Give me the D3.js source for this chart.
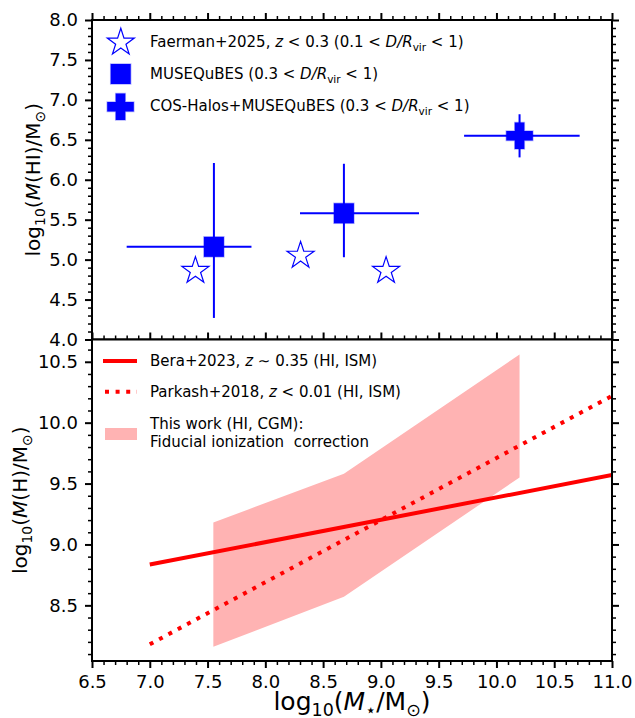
<!DOCTYPE html>
<html>
<head>
<meta charset="utf-8">
<script src="https://cdn.jsdelivr.net/npm/d3@7"></script>
<style>
  body { margin: 0; background: #fff; }
  svg text { font-family: "DejaVu Sans", sans-serif; }
</style>
</head>
<body>
<div id="chart"></div>
<script>
// ---- Data ----

// Top panel: log10 M(HI) against log10 M*
var faermanMass = [7.395, 8.305, 9.045];
var faermanHI = [4.86, 5.05, 4.86];

var museMass = [7.555, 8.68];
var museHI = [5.16, 5.58];
var museMassLo = [6.80, 8.30];
var museMassHi = [7.88, 9.33];
var museHILo = [4.27, 5.03];
var museHIHi = [6.21, 6.20];

var cosMass = [10.20];
var cosHI = [6.55];
var cosMassLo = [9.72];
var cosMassHi = [10.72];
var cosHILo = [6.28];
var cosHIHi = [6.82];

// Bottom panel: log10 M(H) against log10 M*
var beraMass = [7.0, 11.0];
var beraMH = [8.835, 9.57];
var parkashMass = [7.0, 11.0];
var parkashMH = [8.18, 10.22];
var bandMass = [7.55, 8.68, 10.2];
var bandLow = [8.16, 8.57, 9.55];
var bandHigh = [9.18, 9.58, 10.56];

// Tick values
var xMajorTicks = [6.5, 7.0, 7.5, 8.0, 8.5, 9.0, 9.5, 10.0, 10.5, 11.0];
var topMajorTicks = [4.0, 4.5, 5.0, 5.5, 6.0, 6.5, 7.0, 7.5, 8.0];
var bottomMajorTicks = [8.5, 9.0, 9.5, 10.0, 10.5];

// ---- Layout ----
var svgWidth = 635;
var svgHeight = 718;
var left = 92, right = 612;
var topTop = 20, topBottom = 339.5;
var botTop = 339.5, botBottom = 661;

var blue = '#0000ff';
var red = '#ff0000';

var svg = d3.select('#chart')
  .append('svg')
  .attr('width', svgWidth)
  .attr('height', svgHeight);

svg.append('rect')
  .attr('width', svgWidth)
  .attr('height', svgHeight)
  .attr('fill', '#fff');

var x = d3.scaleLinear().domain([6.5, 11.0]).range([left, right]);
var yTop = d3.scaleLinear().domain([4.0, 8.0]).range([topBottom, topTop]);
var yBot = d3.scaleLinear().domain([8.043, 10.683]).range([botBottom, botTop]);

// minor ticks every 0.1
function minorTicks(scale) {
  var dom = scale.domain();
  var out = [];
  for (var v = Math.ceil(dom[0] * 10 - 1e-6); v <= Math.floor(dom[1] * 10 + 1e-6); v++) {
    if (v % 5 !== 0) out.push(v / 10);
  }
  return out;
}

// mathtext-ish helper: pieces of text with italics / subscripts
function richText(sel, parts, size) {
  var shift = 0;
  parts.forEach(function(p) {
    var ts = sel.append('tspan').text(p.t);
    var want = p.sub ? size * 0.24 : 0;
    if (want !== shift) {
      ts.attr('dy', want - shift);
      shift = want;
    }
    if (p.sub) ts.attr('font-size', size * 0.7);
    if (p.it) ts.attr('font-style', 'italic');
  });
}

// Draw spine box and ticks on all four sides (ticks outward)
function drawFrame(y, yMajor, yTopPx, yBotPx, showXLabels, showBottomTicks) {
  var g = svg.append('g');
  var fmt = d3.format('.1f');

  function styleAxis(ax, major) {
    ax.select('.domain').remove();
    ax.attr('font-family', null).attr('font-size', null);
    ax.selectAll('line').attr('stroke', '#000').attr('stroke-width', major ? 2 : 1.5);
    ax.selectAll('text').attr('fill', '#000').attr('font-size', '18px');
  }

  // left
  styleAxis(g.append('g').attr('transform', `translate(${left},0)`)
    .call(d3.axisLeft(y).tickValues(yMajor).tickFormat(fmt).tickSize(7).tickPadding(7).tickSizeOuter(0)), true);
  styleAxis(g.append('g').attr('transform', `translate(${left},0)`)
    .call(d3.axisLeft(y).tickValues(minorTicks(y)).tickFormat('').tickSize(4).tickSizeOuter(0)), false);
  // right
  styleAxis(g.append('g').attr('transform', `translate(${right},0)`)
    .call(d3.axisRight(y).tickValues(yMajor).tickFormat('').tickSize(7).tickSizeOuter(0)), true);
  styleAxis(g.append('g').attr('transform', `translate(${right},0)`)
    .call(d3.axisRight(y).tickValues(minorTicks(y)).tickFormat('').tickSize(4).tickSizeOuter(0)), false);
  // top
  styleAxis(g.append('g').attr('transform', `translate(0,${yTopPx})`)
    .call(d3.axisTop(x).tickValues(xMajorTicks).tickFormat('').tickSize(7).tickSizeOuter(0)), true);
  styleAxis(g.append('g').attr('transform', `translate(0,${yTopPx})`)
    .call(d3.axisTop(x).tickValues(minorTicks(x)).tickFormat('').tickSize(4).tickSizeOuter(0)), false);
  if (showBottomTicks) {
    styleAxis(g.append('g').attr('transform', `translate(0,${yBotPx})`)
      .call(d3.axisBottom(x).tickValues(xMajorTicks).tickFormat(showXLabels ? fmt : '').tickSize(7).tickPadding(7).tickSizeOuter(0)), true);
    styleAxis(g.append('g').attr('transform', `translate(0,${yBotPx})`)
      .call(d3.axisBottom(x).tickValues(minorTicks(x)).tickFormat('').tickSize(4).tickSizeOuter(0)), false);
  }

  g.append('rect')
    .attr('x', left)
    .attr('y', yTopPx)
    .attr('width', right - left)
    .attr('height', yBotPx - yTopPx)
    .attr('fill', 'none')
    .attr('stroke', '#000')
    .attr('stroke-width', 2);
}

// marker paths
function starPath(r) {
  var pts = [];
  for (var i = 0; i < 10; i++) {
    var rr = i % 2 === 0 ? r : r * 0.381966;
    var a = -Math.PI / 2 + i * Math.PI / 5;
    pts.push([rr * Math.cos(a), rr * Math.sin(a)]);
  }
  return 'M' + pts.map(p => p[0].toFixed(2) + ',' + p[1].toFixed(2)).join('L') + 'Z';
}
function plusPath(w, t) {
  return `M${-t},${-w}H${t}V${-t}H${w}V${t}H${t}V${w}H${-t}V${t}H${-w}V${-t}H${-t}Z`;
}

// ================= TOP PANEL =================
var topG = svg.append('g');

// error bars
function errorBars(mass, val, mLo, mHi, vLo, vHi) {
  mass.forEach(function(m, i) {
    topG.append('line')
      .attr('x1', x(mLo[i])).attr('x2', x(mHi[i]))
      .attr('y1', yTop(val[i])).attr('y2', yTop(val[i]))
      .attr('stroke', blue).attr('stroke-width', 2);
    topG.append('line')
      .attr('x1', x(m)).attr('x2', x(m))
      .attr('y1', yTop(vLo[i])).attr('y2', yTop(vHi[i]))
      .attr('stroke', blue).attr('stroke-width', 2);
  });
}
errorBars(museMass, museHI, museMassLo, museMassHi, museHILo, museHIHi);
errorBars(cosMass, cosHI, cosMassLo, cosMassHi, cosHILo, cosHIHi);

topG.selectAll('.muse')
  .data(museMass)
  .enter()
  .append('rect')
  .attr('x', (d) => x(d) - 10)
  .attr('y', (d, i) => yTop(museHI[i]) - 10)
  .attr('width', 20)
  .attr('height', 20)
  .attr('fill', blue)
  .attr('stroke', 'rgba(0,0,255,0.3)')
  .attr('stroke-width', 1.5);

topG.selectAll('.cos')
  .data(cosMass)
  .enter()
  .append('path')
  .attr('d', plusPath(13.3, 4.8))
  .attr('transform', (d, i) => `translate(${x(d)},${yTop(cosHI[i])})`)
  .attr('fill', blue)
  .attr('stroke', 'rgba(0,0,255,0.3)')
  .attr('stroke-width', 1.5);

topG.selectAll('.faerman')
  .data(faermanMass)
  .enter()
  .append('path')
  .attr('d', starPath(14.2))
  .attr('transform', (d, i) => `translate(${x(d)},${yTop(faermanHI[i])})`)
  .attr('fill', '#fff')
  .attr('stroke', blue)
  .attr('stroke-width', 1.2);

// legend (top)
var legTop = svg.append('g').attr('font-size', 15);
legTop.append('path')
  .attr('d', starPath(14.2))
  .attr('transform', 'translate(120.8,42.5)')
  .attr('fill', '#fff').attr('stroke', blue).attr('stroke-width', 1.2);
legTop.append('rect')
  .attr('x', 110.7).attr('y', 64).attr('width', 20).attr('height', 20)
  .attr('fill', blue).attr('stroke', 'rgba(0,0,255,0.3)').attr('stroke-width', 1.5);
legTop.append('path')
  .attr('d', plusPath(13.3, 4.8))
  .attr('transform', 'translate(120.5,106.7)')
  .attr('fill', blue).attr('stroke', 'rgba(0,0,255,0.3)').attr('stroke-width', 1.5);

var dr = [{t: 'D/R', it: true}, {t: 'vir', sub: true}, {t: ' < 1)'}];
richText(legTop.append('text').attr('x', 150).attr('y', 47),
  [{t: 'Faerman+2025, '}, {t: 'z', it: true}, {t: ' < 0.3 (0.1 < '}].concat(dr), 15);
richText(legTop.append('text').attr('x', 150).attr('y', 79),
  [{t: 'MUSEQuBES (0.3 < '}].concat(dr), 15);
richText(legTop.append('text').attr('x', 150).attr('y', 111),
  [{t: 'COS-Halos+MUSEQuBES (0.3 < '}].concat(dr), 15);

drawFrame(yTop, topMajorTicks, topTop, topBottom, false, false);

// y label top
richText(svg.append('text')
  .attr('transform', `translate(40,${(topTop + topBottom) / 2}) rotate(-90)`)
  .attr('text-anchor', 'middle')
  .attr('font-size', 20),
  [{t: 'log'}, {t: '10', sub: true}, {t: '('}, {t: 'M', it: true}, {t: '(HI)/M'}, {t: '\u2299', sub: true}, {t: ')'}], 20);

// ================= BOTTOM PANEL =================
svg.append('rect')
  .attr('x', left).attr('y', botTop)
  .attr('width', right - left).attr('height', botBottom - botTop)
  .attr('fill', '#fff');

svg.append('clipPath').attr('id', 'botClip')
  .append('rect')
  .attr('x', left).attr('y', botTop)
  .attr('width', right - left).attr('height', botBottom - botTop);

var botG = svg.append('g').attr('clip-path', 'url(#botClip)');

var band = d3.area()
  .x((d) => x(d))
  .y0((d, i) => yBot(bandLow[i]))
  .y1((d, i) => yBot(bandHigh[i]));

botG.append('path')
  .datum(bandMass)
  .attr('d', band)
  .attr('fill', '#ffb3b3');

var line = d3.line()
  .x((d) => x(d[0]))
  .y((d) => yBot(d[1]));

botG.append('path')
  .datum(parkashMass.map((m, i) => [m, parkashMH[i]]))
  .attr('d', line)
  .attr('fill', 'none')
  .attr('stroke', red)
  .attr('stroke-width', 4)
  .attr('stroke-dasharray', '4,6.6');

botG.append('path')
  .datum(beraMass.map((m, i) => [m, beraMH[i]]))
  .attr('d', line)
  .attr('fill', 'none')
  .attr('stroke', red)
  .attr('stroke-width', 4);

// legend (bottom)
var legBot = svg.append('g').attr('font-size', 15);
legBot.append('line')
  .attr('x1', 103).attr('x2', 137).attr('y1', 361).attr('y2', 361)
  .attr('stroke', red).attr('stroke-width', 4);
legBot.append('line')
  .attr('x1', 105).attr('x2', 137).attr('y1', 391.7).attr('y2', 391.7)
  .attr('stroke', red).attr('stroke-width', 4).attr('stroke-dasharray', '4,6.6');
legBot.append('rect')
  .attr('x', 105).attr('y', 428).attr('width', 32).attr('height', 12)
  .attr('fill', '#ffb3b3');

richText(legBot.append('text').attr('x', 150).attr('y', 366),
  [{t: 'Bera+2023, '}, {t: 'z', it: true}, {t: ' \u223c 0.35 (HI, ISM)'}], 15);
richText(legBot.append('text').attr('x', 150).attr('y', 397),
  [{t: 'Parkash+2018, '}, {t: 'z', it: true}, {t: ' < 0.01 (HI, ISM)'}], 15);
legBot.append('text').attr('x', 150).attr('y', 429).text('This work (HI, CGM):');
legBot.append('text').attr('x', 150).attr('y', 447)
  .attr('xml:space', 'preserve')
  .style('white-space', 'pre')
  .text('Fiducial ionization  correction');

drawFrame(yBot, bottomMajorTicks, botTop, botBottom, true, true);

// y label bottom
richText(svg.append('text')
  .attr('transform', `translate(27,${(botTop + botBottom) / 2}) rotate(-90)`)
  .attr('text-anchor', 'middle')
  .attr('font-size', 20),
  [{t: 'log'}, {t: '10', sub: true}, {t: '('}, {t: 'M', it: true}, {t: '(H)/M'}, {t: '\u2299', sub: true}, {t: ')'}], 20);

// x label
richText(svg.append('text')
  .attr('x', (left + right) / 2)
  .attr('y', 710)
  .attr('text-anchor', 'middle')
  .attr('font-size', 25),
  [{t: 'log'}, {t: '10', sub: true}, {t: '('}, {t: 'M', it: true}, {t: '\u22c6', sub: true}, {t: '/M'}, {t: '\u2299', sub: true}, {t: ')'}], 25);
</script>
</body>
</html>
